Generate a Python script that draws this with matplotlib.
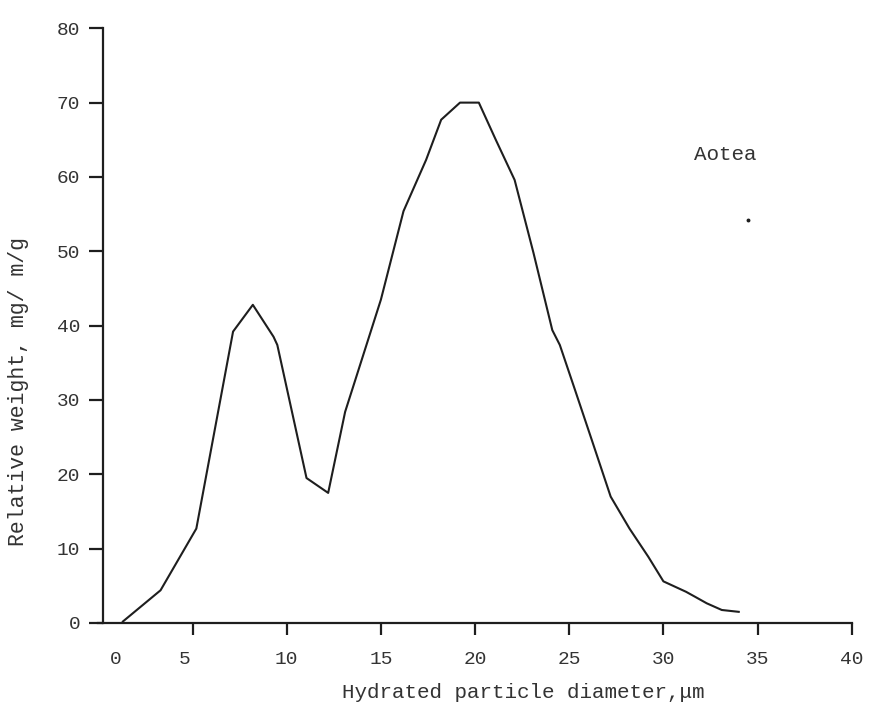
import matplotlib
matplotlib.use("Agg")
import matplotlib.pyplot as plt
from matplotlib.transforms import ScaledTranslation

# Particle size distribution (Aotea)
diameter = [1.3, 3.3, 5.2, 7.15, 8.2, 9.3, 9.5, 11.05, 12.2, 13.1, 15.0,
            16.2, 17.4, 18.2, 19.2, 20.2, 21.1, 22.1, 23.1, 24.1, 24.5,
            25.3, 26.2, 27.2, 28.2, 29.2, 30.0, 31.2, 31.7, 32.3, 33.1, 34.0]
weight = [0.2, 4.4, 12.7, 39.2, 42.8, 38.5, 37.4, 19.5, 17.5, 28.4, 43.5,
          55.4, 62.3, 67.7, 70.0, 70.0, 65.0, 59.6, 49.8, 39.4, 37.4,
          31.4, 24.6, 17.0, 12.7, 8.9, 5.6, 4.2, 3.5, 2.65, 1.75, 1.5]

x_ticks = [0, 5, 10, 15, 20, 25, 30, 35, 40]
y_ticks = [0, 10, 20, 30, 40, 50, 60, 70, 80]

ink = "#1e1e1e"
font = ["Liberation Mono", "DejaVu Sans Mono"]

fig = plt.figure(figsize=(8.77, 7.16), dpi=100)
ax = fig.add_axes([0.1122, 0.1299, 0.8590, 0.8306])

ax.plot(diameter, weight, color=ink, lw=1.5)

# stray speck next to the label
ax.plot([34.5], [54.2], marker="o", ms=1.8, color=ink)

ax.set_xlim(0, 40)
ax.set_ylim(0, 80)
for side in ("top", "right"):
    ax.spines[side].set_visible(False)
for side in ("left", "bottom"):
    ax.spines[side].set_linewidth(1.6)
    ax.spines[side].set_color(ink)
ax.spines["left"].set_position(("data", 0.22))

ax.set_xticks(x_ticks)
ax.set_xticklabels([str(v) for v in x_ticks], family=font, fontsize=14, color="#333333")
ax.set_yticks(y_ticks)
ax.set_yticklabels([str(v) for v in y_ticks], family=font, fontsize=14, color="#333333")
ax.tick_params(axis="x", direction="out", length=8.5, width=1.6, color=ink, pad=12)
ax.tick_params(axis="y", direction="out", length=10, width=1.6, color=ink, pad=6)

# the zero label sits to the right of the corner, with no tick of its own
t0 = ax.xaxis.get_major_ticks()[0]
t0.tick1line.set_visible(False)
t0.label1.set_transform(t0.label1.get_transform()
                        + ScaledTranslation(0.17, 0, fig.dpi_scale_trans))
t5 = ax.xaxis.get_major_ticks()[1]
t5.label1.set_transform(t5.label1.get_transform()
                        + ScaledTranslation(-0.08, 0, fig.dpi_scale_trans))

ax.text(33.3, 63, "Aotea", family=font, fontsize=15, color="#333333",
        ha="center", va="center")

fig.text(523 / 877, 1 - 693 / 716, "Hydrated particle diameter,\u03bcm",
         family=font, fontsize=15, color="#333333", ha="center", va="center")
fig.text(19 / 877, 1 - 392 / 716, "Relative weight, mg/ m/g",
         family=font, fontsize=15.5, color="#333333", ha="center", va="center",
         rotation=90)

fig.savefig("out.png", dpi=100, facecolor="white")
